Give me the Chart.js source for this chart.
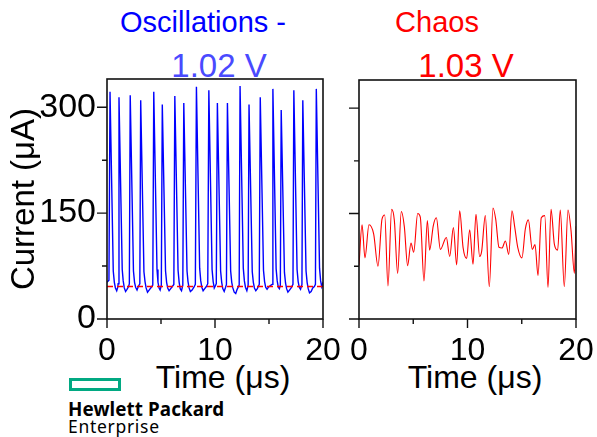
<!DOCTYPE html>
<html><head><meta charset="utf-8">
<script src="https://cdn.jsdelivr.net/npm/chart.js@4.4.1/dist/chart.umd.min.js"></script>
<style>
html,body{margin:0;padding:0;background:#fff;}
#wrap{position:relative;width:597px;height:437px;overflow:hidden;font-family:"Liberation Sans",Arial,sans-serif;background:#fff;}
canvas{position:absolute;left:0;top:0;}
.t{position:absolute;white-space:nowrap;line-height:1;transform:translateX(-50%);}
.logo{position:absolute;white-space:nowrap;line-height:1;font-family:"Noto Sans",sans-serif;color:#000;}
</style></head><body>
<div id="wrap">
  <div class="t" style="left:203px;top:8px;font-size:29px;color:#0000ff">Oscillations -</div>
  <div class="t" style="left:219px;top:49px;font-size:33px;color:#4a4aff">1.02 V</div>
  <div class="t" style="left:437px;top:8px;font-size:29px;color:#ff0000">Chaos</div>
  <div class="t" style="left:466px;top:49px;font-size:33px;color:#ff0000">1.03 V</div>
  <div class="t" style="left:223px;top:361px;font-size:32px;color:#000">Time (μs)</div>
  <div class="t" style="left:475px;top:361px;font-size:32px;color:#000">Time (μs)</div>
  <div style="position:absolute;left:69px;top:378px;width:52px;height:13px;border:3px solid #01a982;box-sizing:border-box;"></div>
  <div class="logo" style="left:68px;top:400px;font-size:18.8px;font-weight:700;letter-spacing:0.1px;">Hewlett Packard</div>
  <div class="logo" style="left:68px;top:418px;font-size:17.5px;letter-spacing:0.7px;">Enterprise</div>
  <canvas id="c1" width="597" height="437"></canvas>
  <canvas id="c2" width="597" height="437"></canvas>
</div>
<script>
// ---- data ----
const xTickValues = [0, 5, 10, 15, 20];
const xTickLabels = [0, 10, 20];
const yTickValues = [0, 75, 150, 225, 300];
const yTickLabels = [0, 150, 300];

const oscTime = [
  0, 0.18, 0.28, 0.58, 0.68, 0.78, 0.9, 1.0,
  1.03, 1.11, 1.41, 1.5, 1.6, 1.72, 1.85, 2.0,
  2.07, 2.15, 2.45, 2.55, 2.65, 2.78, 2.9,
  3.04, 3.12, 3.42, 3.52, 3.62, 3.75, 3.9, 4.1, 4.24,
  4.33, 4.63, 4.72, 4.82, 4.92, 5.03,
  5.12, 5.42, 5.52, 5.62, 5.75, 5.9, 6.05, 6.19,
  6.28, 6.58, 6.68, 6.78, 6.9, 7.02,
  7.11, 7.41, 7.5, 7.6, 7.72, 7.88, 8.05, 8.18,
  8.28, 8.58, 8.68, 8.78, 8.9, 9.05, 9.2, 9.33,
  9.43, 9.73, 9.83, 9.93, 10.03, 10.12,
  10.22, 10.52, 10.62, 10.72, 10.85, 10.98, 11.06,
  11.15, 11.45, 11.55, 11.65, 11.78, 11.92, 12.05, 12.24,
  12.32, 12.62, 12.72, 12.82, 12.95, 13.07,
  13.15, 13.45, 13.55, 13.65, 13.78, 13.92, 14.1,
  14.19, 14.49, 14.59, 14.69, 14.82, 14.95, 15.1, 15.28,
  15.36, 15.66, 15.76, 15.86, 15.96, 16.05,
  16.13, 16.43, 16.53, 16.63, 16.75, 16.9, 17.05, 17.22,
  17.3, 17.6, 17.7, 17.8, 17.92, 18.05,
  18.13, 18.43, 18.53, 18.63, 18.75, 18.9, 19.05, 19.2, 19.3,
  19.38, 19.68, 19.78, 19.88, 20.0
];
const oscCurrent = [
  52, 55, 322, 68, 52, 44, 40, 45,
  50, 314, 70, 54, 44, 39, 42, 46,
  50, 317, 68, 52, 45, 41, 46,
  50, 310, 67, 53, 44, 38, 41, 45, 48,
  322, 70, 52, 44, 41, 48,
  304, 68, 52, 44, 40, 43, 46, 49,
  316, 69, 52, 43, 40, 48,
  306, 68, 53, 44, 39, 41, 45, 49,
  329, 72, 54, 45, 40, 43, 46, 50,
  324, 70, 53, 44, 47, 50,
  306, 68, 52, 43, 39, 45, 49,
  306, 68, 52, 44, 38, 36, 42, 48,
  330, 72, 54, 45, 40, 48,
  304, 67, 52, 44, 40, 43, 49,
  314, 69, 53, 45, 42, 45, 47, 49,
  326, 71, 54, 45, 43, 48,
  296, 66, 51, 43, 38, 41, 44, 49,
  324, 70, 53, 45, 42, 49,
  310, 68, 52, 43, 37, 39, 44, 46, 49,
  326, 72, 54, 46, 52
];
const baselineTime = [0, 20];
const baselineCurrent = [46, 46];

const chaosTime = [
  0, 0.28, 0.55, 0.92, 1.35, 1.75, 2.12, 2.37, 2.67, 3.01, 3.26, 3.56, 3.90, 4.18, 4.48, 4.79, 5.04,
  5.41, 5.65, 5.99, 6.30, 6.51, 6.85, 7.13, 7.50, 8.05, 8.36, 8.70, 9.00, 9.28, 9.59, 9.92,
  10.2, 10.51, 10.78, 11.12, 11.31, 11.64, 12.01, 12.35, 12.60, 12.90, 13.18, 13.49, 13.80, 14.10,
  14.35, 14.63, 15.02, 15.33, 15.61, 15.97, 16.22, 16.50, 16.80, 17.12, 17.42, 17.70, 18.00, 18.31,
  18.55, 18.92, 19.26, 19.54, 19.85, 20
];
const chaosCurrent = [
  76, 134, 87, 134, 121, 75, 142, 148, 47, 156, 140, 65, 153, 131, 76, 108, 95,
  150, 145, 54, 140, 98, 133, 144, 99, 116, 89, 130, 77, 154, 102, 86,
  127, 78, 149, 89, 97, 147, 46, 158, 142, 102, 101, 111, 92, 154,
  131, 102, 87, 128, 141, 99, 106, 62, 144, 147, 45, 156, 107, 98,
  155, 46, 155, 126, 65, 132
];

// ---- helpers ----
const pts = (xs, ys) => xs.map((x, i) => ({x: x, y: ys[i]}));
Chart.defaults.font.family = '"Liberation Sans", Arial, sans-serif';
Chart.defaults.color = '#000';

const frameTicks = {
  id: 'frameTicks',
  afterDraw(chart) {
    const {ctx, chartArea: a} = chart;
    const xs = chart.scales.x, ys = chart.scales.y;
    ctx.save();
    ctx.strokeStyle = '#111';
    ctx.lineWidth = 1.6;
    ctx.strokeRect(a.left, a.top, a.right - a.left, a.bottom - a.top);
    ctx.lineWidth = 1.4;
    ctx.beginPath();
    xTickValues.forEach(v => {
      const p = xs.getPixelForValue(v);
      const L = xTickLabels.includes(v) ? 9 : 5;
      ctx.moveTo(p, a.bottom); ctx.lineTo(p, a.bottom + L);
    });
    yTickValues.forEach(v => {
      const p = ys.getPixelForValue(v);
      const L = yTickLabels.includes(v) ? 10 : 5;
      ctx.moveTo(a.left, p); ctx.lineTo(a.left - L, p);
    });
    ctx.stroke();
    ctx.restore();
  }
};

function scalesFor(showY) {
  return {
    x: {
      type: 'linear', min: 0, max: 20,
      afterBuildTicks: s => { s.ticks = xTickValues.map(v => ({value: v})); },
      ticks: {
        callback: v => xTickLabels.includes(v) ? String(v) : '',
        font: {size: 32}, padding: 13, maxRotation: 0, minRotation: 0, autoSkip: false, color: '#000'
      },
      grid: {display: false, drawTicks: false},
      border: {display: false},
      afterFit: s => { s.height = 60; s.paddingLeft = 0; s.paddingRight = 0; }
    },
    y: {
      type: 'linear', min: 0, max: 340,
      afterBuildTicks: s => { s.ticks = yTickValues.map(v => ({value: v})); },
      ticks: {
        display: showY,
        callback: v => yTickLabels.includes(v) ? String(v) : '',
        font: {size: 34}, padding: 11, autoSkip: false, color: '#000'
      },
      grid: {display: false, drawTicks: false},
      border: {display: false},
      title: {
        display: showY, text: 'Current (μA)', color: '#000',
        font: {size: 33}, padding: {top: 5, bottom: 0}
      },
      afterFit: s => { s.width = showY ? 107 : 0; s.paddingTop = 0; s.paddingBottom = 0; }
    }
  };
}

const baseOpts = {
  responsive: false, animation: false, devicePixelRatio: 1,
  plugins: {legend: {display: false}, tooltip: {enabled: false}, title: {display: false}},
  elements: {point: {radius: 0}}
};

new Chart(document.getElementById('c1'), {
  type: 'line',
  data: {
    datasets: [
      {data: pts(baselineTime, baselineCurrent), borderColor: '#ff0000', borderWidth: 1.5,
       borderDash: [6, 4], pointRadius: 0, order: 0},
      {data: pts(oscTime, oscCurrent), borderColor: '#0000ff', borderWidth: 1.4,
       pointRadius: 0, tension: 0, order: 1}
    ]
  },
  options: Object.assign({}, baseOpts, {
    layout: {padding: {left: 0, top: 79, right: 274, bottom: 58}},
    scales: scalesFor(true)
  }),
  plugins: [frameTicks]
});

new Chart(document.getElementById('c2'), {
  type: 'line',
  data: {
    datasets: [
      {data: pts(chaosTime, chaosCurrent), borderColor: '#ff0000', borderWidth: 1.1,
       pointRadius: 0, cubicInterpolationMode: 'monotone'}
    ]
  },
  options: Object.assign({}, baseOpts, {
    layout: {padding: {left: 359, top: 80, right: 21, bottom: 58}},
    scales: scalesFor(false)
  }),
  plugins: [frameTicks]
});
</script>
</body></html>
